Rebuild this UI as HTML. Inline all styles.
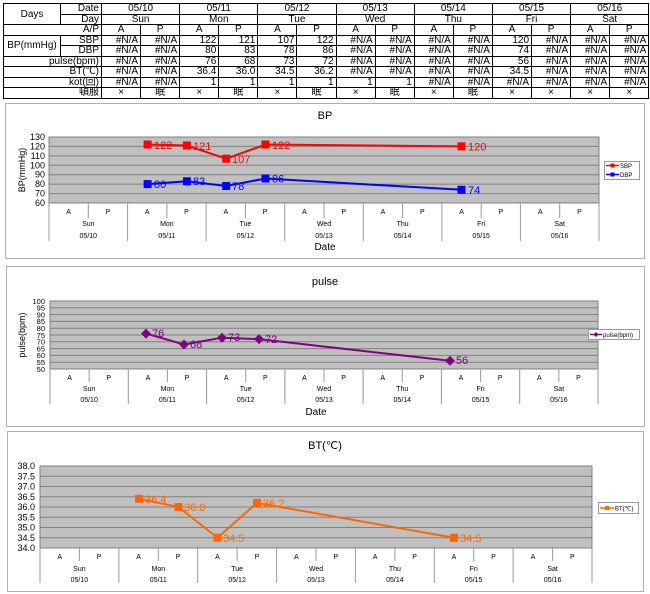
<!DOCTYPE html>
<html><head><meta charset="utf-8"><style>
body{margin:0;background:#fff;width:650px;height:594px;overflow:hidden;font-family:"Liberation Sans","Noto Sans CJK JP",sans-serif}
table{position:absolute;left:3px;top:3px;border-collapse:collapse;table-layout:fixed;font-size:10px}
td{border:1px solid #000;height:9.5px;line-height:9px;padding:0 2px;white-space:nowrap;overflow:hidden}
.c{text-align:center}.r{text-align:right}
svg{position:absolute;left:0;top:0}
</style></head><body>
<table>
<colgroup><col style="width:57px"><col style="width:41px"><col span="14" style="width:39.1px"></colgroup>
<tr><td rowspan="2" class="c">Days</td><td class="r">Date</td><td colspan="2" class="c">05/10</td><td colspan="2" class="c">05/11</td><td colspan="2" class="c">05/12</td><td colspan="2" class="c">05/13</td><td colspan="2" class="c">05/14</td><td colspan="2" class="c">05/15</td><td colspan="2" class="c">05/16</td></tr>
<tr><td class="r">Day</td><td colspan="2" class="c">Sun</td><td colspan="2" class="c">Mon</td><td colspan="2" class="c">Tue</td><td colspan="2" class="c">Wed</td><td colspan="2" class="c">Thu</td><td colspan="2" class="c">Fri</td><td colspan="2" class="c">Sat</td></tr>
<tr><td colspan="2" class="r">A/P</td><td class="c">A</td><td class="c">P</td><td class="c">A</td><td class="c">P</td><td class="c">A</td><td class="c">P</td><td class="c">A</td><td class="c">P</td><td class="c">A</td><td class="c">P</td><td class="c">A</td><td class="c">P</td><td class="c">A</td><td class="c">P</td></tr>
<tr><td rowspan="2" class="c">BP(mmHg)</td><td class="r">SBP</td><td class="r">#N/A</td><td class="r">#N/A</td><td class="r">122</td><td class="r">121</td><td class="r">107</td><td class="r">122</td><td class="r">#N/A</td><td class="r">#N/A</td><td class="r">#N/A</td><td class="r">#N/A</td><td class="r">120</td><td class="r">#N/A</td><td class="r">#N/A</td><td class="r">#N/A</td></tr>
<tr><td class="r">DBP</td><td class="r">#N/A</td><td class="r">#N/A</td><td class="r">80</td><td class="r">83</td><td class="r">78</td><td class="r">86</td><td class="r">#N/A</td><td class="r">#N/A</td><td class="r">#N/A</td><td class="r">#N/A</td><td class="r">74</td><td class="r">#N/A</td><td class="r">#N/A</td><td class="r">#N/A</td></tr>
<tr><td colspan="2" class="r">pulse(bpm)</td><td class="r">#N/A</td><td class="r">#N/A</td><td class="r">76</td><td class="r">68</td><td class="r">73</td><td class="r">72</td><td class="r">#N/A</td><td class="r">#N/A</td><td class="r">#N/A</td><td class="r">#N/A</td><td class="r">56</td><td class="r">#N/A</td><td class="r">#N/A</td><td class="r">#N/A</td></tr>
<tr><td colspan="2" class="r">BT(℃)</td><td class="r">#N/A</td><td class="r">#N/A</td><td class="r">36.4</td><td class="r">36.0</td><td class="r">34.5</td><td class="r">36.2</td><td class="r">#N/A</td><td class="r">#N/A</td><td class="r">#N/A</td><td class="r">#N/A</td><td class="r">34.5</td><td class="r">#N/A</td><td class="r">#N/A</td><td class="r">#N/A</td></tr>
<tr><td colspan="2" class="r">kot(回)</td><td class="r">#N/A</td><td class="r">#N/A</td><td class="r">1</td><td class="r">1</td><td class="r">1</td><td class="r">1</td><td class="r">1</td><td class="r">1</td><td class="r">#N/A</td><td class="r">#N/A</td><td class="r">#N/A</td><td class="r">#N/A</td><td class="r">#N/A</td><td class="r">#N/A</td></tr>
<tr><td colspan="2" class="r">頓服</td><td class="c">×</td><td class="c">眠</td><td class="c">×</td><td class="c">眠</td><td class="c">×</td><td class="c">眠</td><td class="c">×</td><td class="c">眠</td><td class="c">×</td><td class="c">眠</td><td class="c">×</td><td class="c">×</td><td class="c">×</td><td class="c">×</td></tr>
</table>

<svg width="650" height="594" font-family="Liberation Sans, sans-serif">
<!-- Chart 1 BP -->
<rect x="5.5" y="103.5" width="639" height="155" fill="#fff" stroke="#b0b0b0"/>
<text x="325" y="119" font-size="11" text-anchor="middle">BP</text>
<rect x="49" y="137" width="550" height="66" fill="#c0c0c0" stroke="#808080"/>
<g stroke="#808080" stroke-width="1">
<line x1="49" x2="599" y1="146.4" y2="146.4"/><line x1="49" x2="599" y1="155.9" y2="155.9"/><line x1="49" x2="599" y1="165.3" y2="165.3"/><line x1="49" x2="599" y1="174.7" y2="174.7"/><line x1="49" x2="599" y1="184.1" y2="184.1"/><line x1="49" x2="599" y1="193.6" y2="193.6"/>
</g>
<g font-size="9" text-anchor="end">
<text x="45" y="140">130</text><text x="45" y="149.4">120</text><text x="45" y="158.9">110</text><text x="45" y="168.3">100</text><text x="45" y="177.7">90</text><text x="45" y="187.1">80</text><text x="45" y="196.6">70</text><text x="45" y="206">60</text>
</g>
<text transform="translate(25,170) rotate(-90)" font-size="9" text-anchor="middle">BP(mmHg)</text>
<g stroke="#999"><line x1="49" x2="49" y1="203" y2="241"/><line x1="127.6" x2="127.6" y1="203" y2="241"/><line x1="206.1" x2="206.1" y1="203" y2="241"/><line x1="284.7" x2="284.7" y1="203" y2="241"/><line x1="363.3" x2="363.3" y1="203" y2="241"/><line x1="441.9" x2="441.9" y1="203" y2="241"/><line x1="520.4" x2="520.4" y1="203" y2="241"/><line x1="599" x2="599" y1="203" y2="241"/>
<line x1="88.3" x2="88.3" y1="203" y2="218"/><line x1="166.9" x2="166.9" y1="203" y2="218"/><line x1="245.4" x2="245.4" y1="203" y2="218"/><line x1="324" x2="324" y1="203" y2="218"/><line x1="402.6" x2="402.6" y1="203" y2="218"/><line x1="481.2" x2="481.2" y1="203" y2="218"/><line x1="559.7" x2="559.7" y1="203" y2="218"/></g>
<g font-size="7" text-anchor="middle">
<text x="68.6" y="214">A</text><text x="107.9" y="214">P</text><text x="147.2" y="214">A</text><text x="186.5" y="214">P</text><text x="225.8" y="214">A</text><text x="265.1" y="214">P</text><text x="304.4" y="214">A</text><text x="343.7" y="214">P</text><text x="383" y="214">A</text><text x="422.3" y="214">P</text><text x="461.6" y="214">A</text><text x="500.9" y="214">P</text><text x="540.2" y="214">A</text><text x="579.5" y="214">P</text>
<text x="88.3" y="226">Sun</text><text x="166.9" y="226">Mon</text><text x="245.4" y="226">Tue</text><text x="324" y="226">Wed</text><text x="402.6" y="226">Thu</text><text x="481.2" y="226">Fri</text><text x="559.7" y="226">Sat</text>
<text x="88.3" y="238">05/10</text><text x="166.9" y="238">05/11</text><text x="245.4" y="238">05/12</text><text x="324" y="238">05/13</text><text x="402.6" y="238">05/14</text><text x="481.2" y="238">05/15</text><text x="559.7" y="238">05/16</text>
</g>
<text x="325" y="250" font-size="10" text-anchor="middle">Date</text>
<polyline points="147.6,144.5 186.9,145.5 226.2,158.7 265.5,144.5 461.5,146.4" fill="none" stroke="#ff0000" stroke-width="2"/>
<polyline points="147.6,184.1 186.9,181.3 226.2,186 265.5,178.5 461.5,189.8" fill="none" stroke="#0000ff" stroke-width="2"/>
<g fill="#ff0000"><rect x="143.6" y="140.5" width="8" height="8"/><rect x="182.9" y="141.5" width="8" height="8"/><rect x="222.2" y="154.7" width="8" height="8"/><rect x="261.5" y="140.5" width="8" height="8"/><rect x="457.5" y="142.4" width="8" height="8"/></g>
<g fill="#0000ff"><rect x="143.6" y="180.1" width="8" height="8"/><rect x="182.9" y="177.3" width="8" height="8"/><rect x="222.2" y="182" width="8" height="8"/><rect x="261.5" y="174.5" width="8" height="8"/><rect x="457.5" y="185.8" width="8" height="8"/></g>
<g font-size="11" fill="#ff0000"><text x="154" y="149">122</text><text x="193" y="150">121</text><text x="232" y="163">107</text><text x="272" y="149">122</text><text x="468" y="150.5">120</text></g>
<g font-size="11" fill="#0000ff"><text x="154" y="188">80</text><text x="193" y="185">83</text><text x="232" y="190">78</text><text x="272" y="182.5">86</text><text x="468" y="194">74</text></g>
<rect x="604.5" y="161.5" width="35" height="18" fill="#fff" stroke="#999"/>
<line x1="606" x2="619" y1="165.5" y2="165.5" stroke="#f00" stroke-width="1.5"/><rect x="610.5" y="163.5" width="4" height="4" fill="#f00"/>
<line x1="606" x2="619" y1="174.5" y2="174.5" stroke="#00f" stroke-width="1.5"/><rect x="610.5" y="172.5" width="4" height="4" fill="#00f"/>
<text x="620" y="168" font-size="6">SBP</text><text x="620" y="177" font-size="6">DBP</text>

<!-- Chart 2 pulse -->
<rect x="6.5" y="266.5" width="638" height="160" fill="#fff" stroke="#b0b0b0"/>
<text x="325" y="285" font-size="11" text-anchor="middle">pulse</text>
<rect x="50" y="301" width="548" height="68" fill="#c0c0c0" stroke="#808080"/>
<g stroke="#808080"><line x1="50" x2="598" y1="307.8" y2="307.8"/><line x1="50" x2="598" y1="314.6" y2="314.6"/><line x1="50" x2="598" y1="321.4" y2="321.4"/><line x1="50" x2="598" y1="328.2" y2="328.2"/><line x1="50" x2="598" y1="335" y2="335"/><line x1="50" x2="598" y1="341.8" y2="341.8"/><line x1="50" x2="598" y1="348.6" y2="348.6"/><line x1="50" x2="598" y1="355.4" y2="355.4"/><line x1="50" x2="598" y1="362.2" y2="362.2"/></g>
<g font-size="7.5" text-anchor="end">
<text x="45" y="303.8">100</text><text x="45" y="310.6">95</text><text x="45" y="317.4">90</text><text x="45" y="324.2">85</text><text x="45" y="331">80</text><text x="45" y="337.8">75</text><text x="45" y="344.6">70</text><text x="45" y="351.4">65</text><text x="45" y="358.2">60</text><text x="45" y="365">55</text><text x="45" y="371.8">50</text>
</g>
<text transform="translate(25,335) rotate(-90)" font-size="9" text-anchor="middle">pulse(bpm)</text>
<g stroke="#999"><line x1="50" x2="50" y1="369" y2="404"/><line x1="128.3" x2="128.3" y1="369" y2="404"/><line x1="206.6" x2="206.6" y1="369" y2="404"/><line x1="284.9" x2="284.9" y1="369" y2="404"/><line x1="363.1" x2="363.1" y1="369" y2="404"/><line x1="441.4" x2="441.4" y1="369" y2="404"/><line x1="519.7" x2="519.7" y1="369" y2="404"/><line x1="598" x2="598" y1="369" y2="404"/>
<line x1="89.1" x2="89.1" y1="369" y2="382"/><line x1="167.4" x2="167.4" y1="369" y2="382"/><line x1="245.7" x2="245.7" y1="369" y2="382"/><line x1="324" x2="324" y1="369" y2="382"/><line x1="402.3" x2="402.3" y1="369" y2="382"/><line x1="480.6" x2="480.6" y1="369" y2="382"/><line x1="558.9" x2="558.9" y1="369" y2="382"/></g>
<g font-size="7" text-anchor="middle">
<text x="69.6" y="380">A</text><text x="108.7" y="380">P</text><text x="147.9" y="380">A</text><text x="187" y="380">P</text><text x="226.2" y="380">A</text><text x="265.3" y="380">P</text><text x="304.4" y="380">A</text><text x="343.6" y="380">P</text><text x="382.7" y="380">A</text><text x="421.9" y="380">P</text><text x="461" y="380">A</text><text x="500.2" y="380">P</text><text x="539.3" y="380">A</text><text x="578.4" y="380">P</text>
<text x="89.1" y="391">Sun</text><text x="167.4" y="391">Mon</text><text x="245.7" y="391">Tue</text><text x="324" y="391">Wed</text><text x="402.3" y="391">Thu</text><text x="480.6" y="391">Fri</text><text x="558.9" y="391">Sat</text>
<text x="89.1" y="402">05/10</text><text x="167.4" y="402">05/11</text><text x="245.7" y="402">05/12</text><text x="324" y="402">05/13</text><text x="402.3" y="402">05/14</text><text x="480.6" y="402">05/15</text><text x="558.9" y="402">05/16</text>
</g>
<text x="316" y="415" font-size="10" text-anchor="middle">Date</text>
<polyline points="146,333.6 184,344.5 222,337.7 259,339.1 450,360.8" fill="none" stroke="#800080" stroke-width="2"/>
<g fill="#800080"><path d="M146 328.6 L151 333.6 L146 338.6 L141 333.6Z"/><path d="M184 339.5 L189 344.5 L184 349.5 L179 344.5Z"/><path d="M222 332.7 L227 337.7 L222 342.7 L217 337.7Z"/><path d="M259 334.1 L264 339.1 L259 344.1 L254 339.1Z"/><path d="M450 355.8 L455 360.8 L450 365.8 L445 360.8Z"/></g>
<g font-size="11" fill="#800080"><text x="152" y="337">76</text><text x="190" y="348">68</text><text x="228" y="341">73</text><text x="265" y="343">72</text><text x="456" y="364">56</text></g>
<rect x="588.5" y="329.5" width="51" height="10" fill="#fff" stroke="#999"/>
<line x1="590" x2="602" y1="334.5" y2="334.5" stroke="#800080" stroke-width="1.5"/><path d="M596 332 L598.5 334.5 L596 337 L593.5 334.5Z" fill="#800080"/>
<text x="603" y="337" font-size="6">pulse(bpm)</text>

<!-- Chart 3 BT -->
<rect x="7.5" y="431.5" width="636" height="160" fill="#fff" stroke="#b0b0b0"/>
<text x="325" y="449" font-size="11" text-anchor="middle">BT(℃)</text>
<rect x="40" y="466" width="552" height="82" fill="#c0c0c0" stroke="#808080"/>
<g stroke="#808080"><line x1="40" x2="592" y1="476.25" y2="476.25"/><line x1="40" x2="592" y1="486.5" y2="486.5"/><line x1="40" x2="592" y1="496.75" y2="496.75"/><line x1="40" x2="592" y1="507" y2="507"/><line x1="40" x2="592" y1="517.25" y2="517.25"/><line x1="40" x2="592" y1="527.5" y2="527.5"/><line x1="40" x2="592" y1="537.75" y2="537.75"/></g>
<g font-size="9" text-anchor="end">
<text x="35" y="469">38.0</text><text x="35" y="479.25">37.5</text><text x="35" y="489.5">37.0</text><text x="35" y="499.75">36.5</text><text x="35" y="510">36.0</text><text x="35" y="520.25">35.5</text><text x="35" y="530.5">35.0</text><text x="35" y="540.75">34.5</text><text x="35" y="551">34.0</text>
</g>
<g stroke="#999"><line x1="40" x2="40" y1="548" y2="583"/><line x1="118.9" x2="118.9" y1="548" y2="583"/><line x1="197.7" x2="197.7" y1="548" y2="583"/><line x1="276.6" x2="276.6" y1="548" y2="583"/><line x1="355.4" x2="355.4" y1="548" y2="583"/><line x1="434.3" x2="434.3" y1="548" y2="583"/><line x1="513.1" x2="513.1" y1="548" y2="583"/><line x1="592" x2="592" y1="548" y2="583"/>
<line x1="79.4" x2="79.4" y1="548" y2="561"/><line x1="158.3" x2="158.3" y1="548" y2="561"/><line x1="237.1" x2="237.1" y1="548" y2="561"/><line x1="316" x2="316" y1="548" y2="561"/><line x1="394.9" x2="394.9" y1="548" y2="561"/><line x1="473.7" x2="473.7" y1="548" y2="561"/><line x1="552.6" x2="552.6" y1="548" y2="561"/></g>
<g font-size="7" text-anchor="middle">
<text x="59.7" y="559">A</text><text x="99.1" y="559">P</text><text x="138.6" y="559">A</text><text x="178" y="559">P</text><text x="217.4" y="559">A</text><text x="256.9" y="559">P</text><text x="296.3" y="559">A</text><text x="335.7" y="559">P</text><text x="375.1" y="559">A</text><text x="414.6" y="559">P</text><text x="454" y="559">A</text><text x="493.4" y="559">P</text><text x="532.9" y="559">A</text><text x="572.3" y="559">P</text>
<text x="79.4" y="571">Sun</text><text x="158.3" y="571">Mon</text><text x="237.1" y="571">Tue</text><text x="316" y="571">Wed</text><text x="394.9" y="571">Thu</text><text x="473.7" y="571">Fri</text><text x="552.6" y="571">Sat</text>
<text x="79.4" y="582">05/10</text><text x="158.3" y="582">05/11</text><text x="237.1" y="582">05/12</text><text x="316" y="582">05/13</text><text x="394.9" y="582">05/14</text><text x="473.7" y="582">05/15</text><text x="552.6" y="582">05/16</text>
</g>
<polyline points="139,498.8 178.5,507 217.5,537.75 257,502.9 454,537.75" fill="none" stroke="#ff6600" stroke-width="2"/>
<g fill="#ff6600"><rect x="135" y="494.8" width="8" height="8"/><rect x="174.5" y="503" width="8" height="8"/><rect x="213.5" y="533.75" width="8" height="8"/><rect x="253" y="498.9" width="8" height="8"/><rect x="450" y="533.75" width="8" height="8"/></g>
<g font-size="11" fill="#ff6600"><text x="145" y="503">36.4</text><text x="184" y="511">36.0</text><text x="223" y="542">34.5</text><text x="263" y="507">36.2</text><text x="460" y="542">34.5</text></g>
<rect x="598.5" y="502.5" width="40" height="11" fill="#fff" stroke="#999"/>
<line x1="600" x2="614" y1="508" y2="508" stroke="#ff6600" stroke-width="1.5"/><rect x="605" y="506" width="4" height="4" fill="#ff6600"/>
<text x="615" y="510.5" font-size="6">BT(℃)</text>
</svg>
</body></html>
